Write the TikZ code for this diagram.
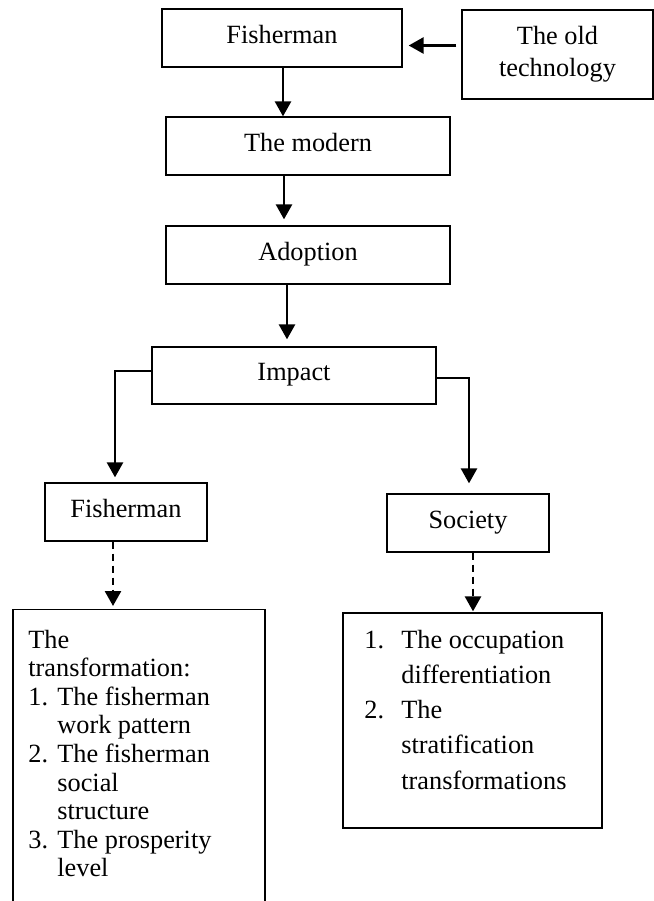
\documentclass[tikz,border=0pt]{standalone}
\usepackage{fontspec}
\setmainfont{Liberation Serif}
\usetikzlibrary{arrows.meta}
\begin{document}
\begin{tikzpicture}[x=0.5pt,y=-0.5pt,
  font=\fontsize{13.15}{14.3}\selectfont,
  box/.style={draw, line width=0.65pt, inner sep=0pt, rectangle},
  oneline/.style={text height=0.8em, text depth=0.26em},
  txt/.style={inner sep=0pt, anchor=base west},
  arr/.style={line width=1.35pt, -{Triangle[length=7.5pt,width=8pt]}},
  darr/.style={arr, dash pattern=on 3.5pt off 2.5pt}]
\useasboundingbox (0,0) rectangle (654,901);
\begin{scope}
\clip (0,0) rectangle (654,901);
% boxes
\node[box,oneline,minimum width=120pt,minimum height=29pt] (fish1) at (282,38) {Fisherman};
\node[box,minimum width=95.5pt,minimum height=44.5pt,font=\fontsize{13.15}{16}\selectfont] (old) at (557.5,54.5) {\begin{tabular}{@{}c@{}}The old\\technology\end{tabular}};
\node[box,oneline,minimum width=142pt,minimum height=29pt] (modern) at (308,146) {The modern};
\node[box,oneline,minimum width=142pt,minimum height=29pt] (adopt) at (308,255) {Adoption};
\node[box,oneline,minimum width=142pt,minimum height=28.5pt] (impact) at (294,375.5) {Impact};
\node[box,oneline,minimum width=81pt,minimum height=29pt] (fish2) at (126,512) {Fisherman};
\node[box,oneline,minimum width=81pt,minimum height=29pt] (soc) at (468,523) {Society};
\node[box,minimum width=126pt,minimum height=171pt,anchor=north] (lbox) at (139,609) {};
\node[box,minimum width=129.5pt,minimum height=107.5pt] (rbox) at (472.5,720.5) {};
% list texts
\node[txt] (ltext) at (28,648) {\begin{tabular}[t]{@{}p{14.5pt}@{}l@{}}
\multicolumn{2}{@{}l@{}}{The}\\
\multicolumn{2}{@{}l@{}}{transformation:}\\
1. & The fisherman\\
 & work pattern\\
2. & The fisherman\\
 & social\\
 & structure\\
3. & The prosperity\\
 & level
\end{tabular}};
\node[txt,font=\fontsize{13.15}{17.65}\selectfont] (rtext) at (364,648) {\begin{tabular}[t]{@{}p{18.5pt}@{}l@{}}
1. & The occupation\\
 & differentiation\\
2. & The\\
 & stratification\\
 & transformations
\end{tabular}};
% connectors
\coordinate (ya) at (0,45.5);
\draw[arr, shorten <=2.5pt, shorten >=3pt] (old.west |- ya) -- (fish1.east |- ya);
\coordinate (xa) at (283,0);
\draw[arr] (fish1.south -| xa) -- (modern.north -| xa);
\coordinate (xb) at (284,0);
\draw[arr, shorten >=3pt] (modern.south -| xb) -- (adopt.north -| xb);
\coordinate (xc) at (287,0);
\draw[arr, shorten >=3.5pt] (adopt.south -| xc) -- (impact.north -| xc);
\coordinate (pl) at (115,371);
\draw[arr, shorten >=2.5pt] (impact.west |- pl) -| (fish2.north -| pl);
\coordinate (pr) at (469,378);
\draw[arr, shorten >=5pt] (impact.east |- pr) -| (soc.north -| pr);
\coordinate (xd) at (113,0);
\draw[darr, shorten >=1.5pt] (fish2.south -| xd) -- (lbox.north -| xd);
\coordinate (xe) at (473,0);
\draw[darr, shorten >=0.5pt] (soc.south -| xe) -- (rbox.north -| xe);
\end{scope}
\end{tikzpicture}
\end{document}
